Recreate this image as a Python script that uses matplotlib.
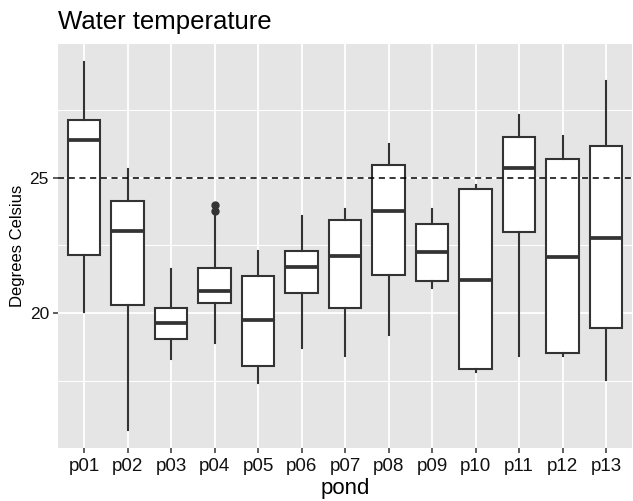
import matplotlib
matplotlib.use("Agg")
import matplotlib.pyplot as plt
from matplotlib.ticker import FixedLocator

plt.rcParams['font.family'] = ['Liberation Sans', 'DejaVu Sans']

# summary of water temperature per pond (degrees Celsius)
ponds = ['p01', 'p02', 'p03', 'p04', 'p05', 'p06', 'p07',
         'p08', 'p09', 'p10', 'p11', 'p12', 'p13']
whis_low = [20.02, 15.69, 18.31, 18.89, 17.42, 18.71, 18.40,
            19.17, 20.92, 17.82, 18.40, 18.40, 17.51]
q1 = [22.13, 20.30, 19.05, 20.38, 18.03, 20.74, 20.17,
      21.42, 21.17, 17.92, 23.01, 18.51, 19.45]
median = [26.40, 23.04, 19.64, 20.80, 19.73, 21.70, 22.12,
          23.77, 22.24, 21.24, 25.38, 22.06, 22.78]
q3 = [27.13, 24.14, 20.19, 21.68, 21.38, 22.30, 23.45,
      25.47, 23.29, 24.57, 26.50, 25.70, 26.19]
whis_high = [29.27, 25.31, 21.63, 23.62, 22.31, 23.60, 23.84,
             26.26, 23.84, 24.72, 27.34, 26.55, 28.58]
outliers = [[], [], [], [24.00, 23.76], [], [], [], [], [], [], [], [], []]
threshold = 25

stats = []
for i, name in enumerate(ponds):
    stats.append({'label': name, 'whislo': whis_low[i], 'q1': q1[i],
                  'med': median[i], 'q3': q3[i], 'whishi': whis_high[i],
                  'fliers': outliers[i]})

fig = plt.figure(figsize=(6.33, 5.01), dpi=100)
ax = fig.add_axes([0.0916, 0.106, 0.907, 0.806])
ax.set_facecolor('#E5E5E5')

line_col = '#333333'
pos = list(range(1, len(ponds) + 1))
ax.bxp(stats, positions=pos, widths=0.75, patch_artist=True, showcaps=False,
       boxprops=dict(facecolor='white', edgecolor=line_col, linewidth=1.5),
       medianprops=dict(color=line_col, linewidth=2.7),
       whiskerprops=dict(color=line_col, linewidth=1.5),
       flierprops=dict(marker='o', markerfacecolor=line_col,
                       markeredgecolor=line_col, markersize=5),
       zorder=3)

ax.axhline(threshold, color='black', linestyle=(0, (4, 3)), linewidth=1.1,
           zorder=4)

lo = min(whis_low)
hi = max(whis_high)
pad = 0.05 * (hi - lo)
ax.set_ylim(lo - pad, hi + pad)
ax.set_xlim(0.4, len(ponds) + 0.6)

ax.yaxis.set_major_locator(FixedLocator([20, 25]))
ax.yaxis.set_minor_locator(FixedLocator([17.5, 22.5, 27.5]))
ax.set_xticks(pos)
ax.set_xticklabels(ponds)
ax.grid(True, which='major', color='white', linewidth=1.3, zorder=0)
ax.grid(True, which='minor', axis='y', color='white', linewidth=0.7, zorder=0)
ax.set_axisbelow(True)

for s in ax.spines.values():
    s.set_visible(False)
ax.tick_params(axis='both', which='major', length=3.5, width=1.1,
               color=line_col)
ax.tick_params(axis='y', which='minor', length=0)
ax.tick_params(axis='x', labelsize=13.5, labelcolor='#111111', pad=4)
ax.tick_params(axis='y', labelsize=12.5, labelcolor='#111111', pad=3)

ax.set_xlabel('pond', fontsize=16, labelpad=2)
ax.set_ylabel('Degrees Celsius', fontsize=12, labelpad=3)
ax.set_title('Water temperature', fontsize=18.5, loc='left', pad=11)

fig.savefig('out.png', dpi=100)
